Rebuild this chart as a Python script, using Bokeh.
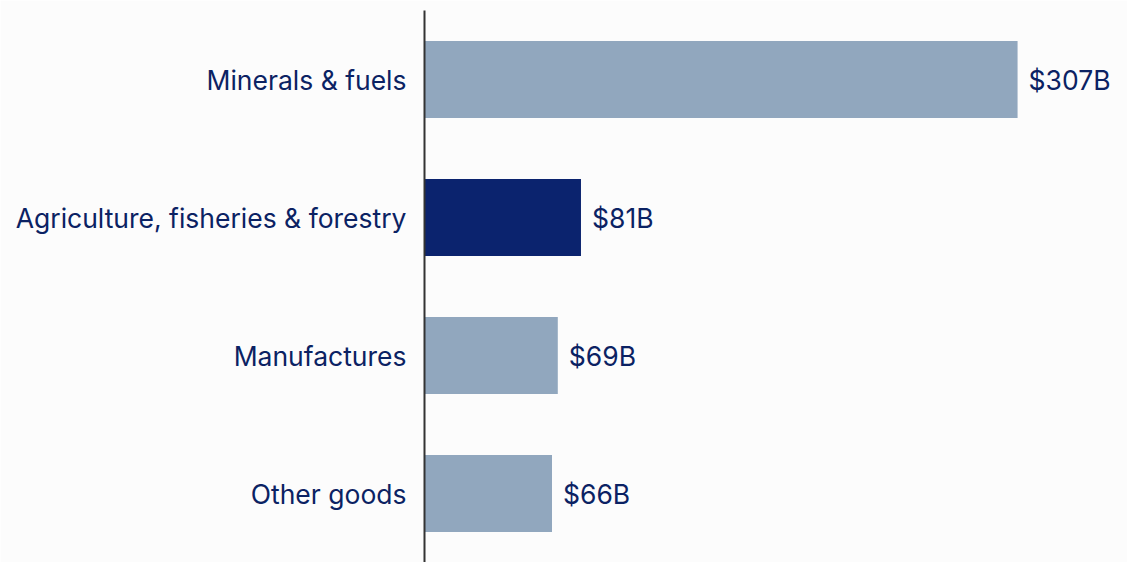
from bokeh.plotting import figure
from bokeh.models import ColumnDataSource, Range1d, FactorRange
from bokeh.core.properties import value
from bokeh.embed import file_html
from bokeh.resources import INLINE

categories = ["Minerals & fuels", "Agriculture, fisheries & forestry", "Manufactures", "Other goods"]
values = [307, 81, 69, 66]
labels = ["$307B", "$81B", "$69B", "$66B"]
colors = ["#91a7be", "#0b236e", "#91a7be", "#91a7be"]

FONT = "Inter"
TEXT_COLOR = "#0b2263"

src = ColumnDataSource(dict(cat=categories, val=values, lab=labels, col=colors))

p = figure(
    width=1127, height=562,
    y_range=FactorRange(*reversed(categories)),
    x_range=Range1d(0, 363.9),
    output_backend="svg", toolbar_location=None,
    min_border_left=424, min_border_right=0, min_border_top=10, min_border_bottom=0,
    background_fill_color="#fcfcfc", border_fill_color="#fcfcfc",
)
p.outline_line_color = None
p.xgrid.visible = False
p.ygrid.visible = False
p.xaxis.visible = False

p.hbar(y="cat", right="val", left=0, height=0.558, fill_color="col", line_color=None, source=src)
p.text(x="val", y="cat", text="lab", source=src, x_offset=11, text_baseline="middle",
       text_align="left", text_font=value(FONT), text_font_size="26.5px", text_color=TEXT_COLOR)

ya = p.yaxis[0]
ya.axis_line_color = "#333333"
ya.axis_line_width = 2
ya.major_tick_line_color = None
ya.minor_tick_line_color = None
ya.major_tick_out = 0
ya.major_tick_in = 0
ya.major_label_standoff = 18
ya.major_label_text_font = FONT
ya.major_label_text_font_size = "26.5px"
ya.major_label_text_color = TEXT_COLOR

open("out.html", "w").write(file_html(p, INLINE))
